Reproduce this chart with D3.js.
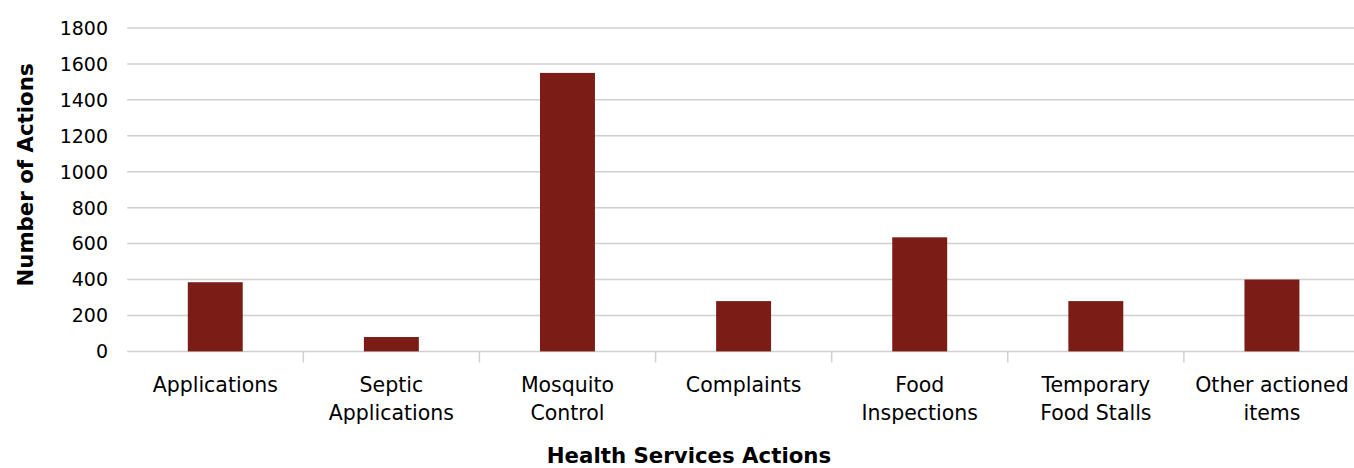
<!DOCTYPE html>
<html><head><meta charset="utf-8">
<script src="https://cdn.jsdelivr.net/npm/d3@7"></script>
<style>
body{margin:0;background:#fff;}
svg{display:block;}
text{font-family:"DejaVu Sans",sans-serif;fill:#000;}
</style></head><body>
<svg id="c" width="1354" height="468"></svg>
<script>
const categories = [["Applications"],["Septic","Applications"],["Mosquito","Control"],["Complaints"],["Food","Inspections"],["Temporary","Food Stalls"],["Other actioned","items"]];
const values = [385, 80, 1550, 280, 635, 280, 400];
const yTicks = [0,200,400,600,800,1000,1200,1400,1600,1800];
const yTitle = "Number of Actions";
const xTitle = "Health Services Actions";

(function(){
const svg = d3.select("#c");
const mL = 127.2, mR = 1360, mT = 28, mB = 351.4;
const names = categories.map(c => c.join(" "));
const x = d3.scaleBand().domain(names).range([mL, mR]).padding(0);
const y = d3.scaleLinear().domain([0, 1800]).range([mB, mT]);

svg.append("g").selectAll("line").data(yTicks).join("line")
  .attr("x1", mL).attr("x2", mR)
  .attr("y1", d => y(d)).attr("y2", d => y(d))
  .attr("stroke", "#d0d0d0").attr("stroke-width", 1.5);

svg.append("g").selectAll("line").data(names.slice(1)).join("line")
  .attr("x1", d => x(d)).attr("x2", d => x(d))
  .attr("y1", mB).attr("y2", mB + 11)
  .attr("stroke", "#d0d0d0").attr("stroke-width", 1.5);

const bw = x.bandwidth() * 0.312;
svg.append("g").selectAll("rect").data(values).join("rect")
  .attr("x", (d, i) => x(names[i]) + x.bandwidth() / 2 - bw / 2)
  .attr("width", bw)
  .attr("y", d => y(d))
  .attr("height", d => y(0) - y(d))
  .attr("fill", "#7b1c17");

svg.append("g").selectAll("text").data(yTicks).join("text")
  .attr("x", 108).attr("y", d => y(d)).attr("dy", "0.36em")
  .attr("text-anchor", "end").attr("font-size", 19).text(d => d);

const xl = svg.append("g").selectAll("text").data(categories).join("text")
  .attr("text-anchor", "middle").attr("font-size", 20.5)
  .attr("transform", (d, i) => `translate(${x(names[i]) + x.bandwidth() / 2},392)`);
xl.selectAll("tspan").data(d => d).join("tspan")
  .attr("x", 0).attr("y", (d, i) => i * 28).text(d => d);

svg.append("text").attr("x", 689).attr("y", 463).attr("text-anchor", "middle")
  .attr("font-size", 21.3).attr("font-weight", "bold").text(xTitle);
svg.append("text").attr("transform", "translate(33,175) rotate(-90)")
  .attr("text-anchor", "middle").attr("font-size", 21.3).attr("font-weight", "bold").text(yTitle);
})();
</script></body></html>
